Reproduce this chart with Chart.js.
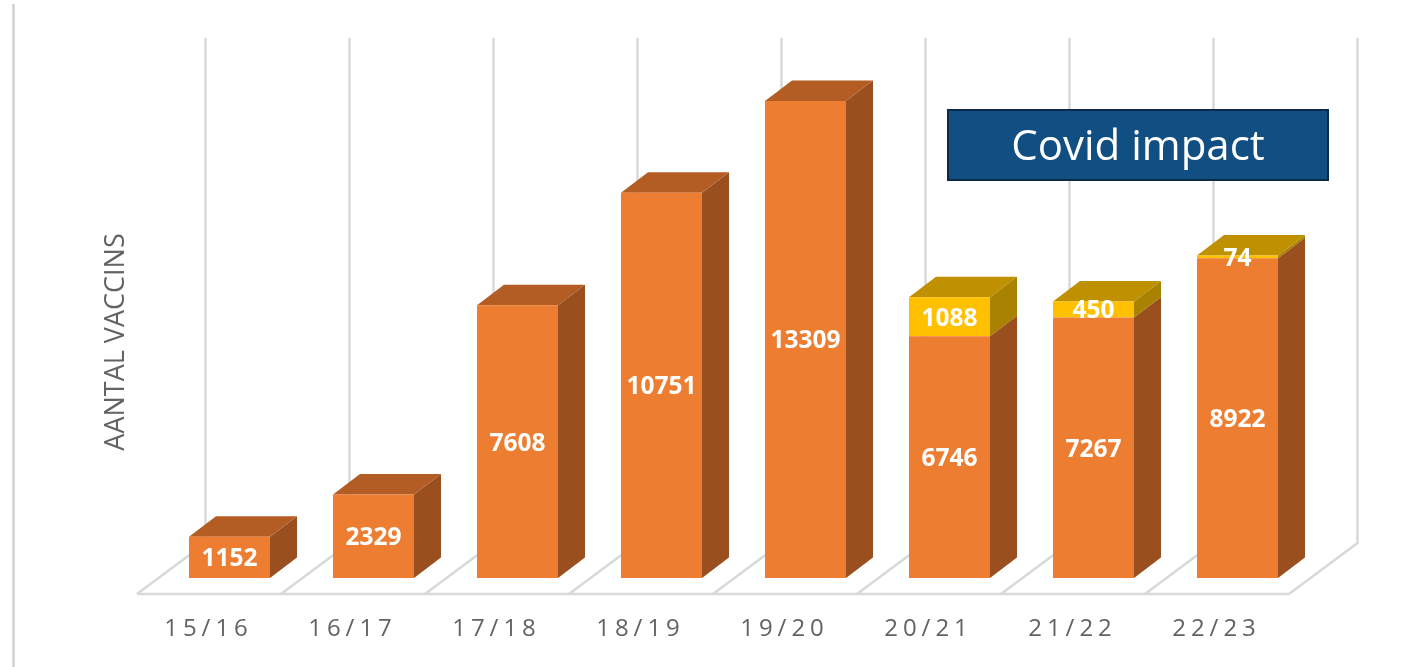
<!DOCTYPE html>
<html>
<head>
<meta charset="utf-8">
<title>Aantal vaccins</title>
<style>
  html, body { margin: 0; padding: 0; background: #fff; }
  canvas { display: block; }
</style>
<script src="https://cdn.jsdelivr.net/npm/chart.js@4/dist/chart.umd.min.js"></script>
</head>
<body>
<canvas id="myChart" width="1420" height="667"></canvas>
<script>
const seasons = ['15/16', '16/17', '17/18', '18/19', '19/20', '20/21', '21/22', '22/23'];
const regularVaccins = [1152, 2329, 7608, 10751, 13309, 6746, 7267, 8922];
const covidVaccins = [0, 0, 0, 0, 0, 1088, 450, 74];
const axisTitle = 'AANTAL VACCINS';
const noteText = 'Covid impact';

const frontColors = ['#ED7D31', '#FFC000'];
const sideColors = ['#9A4F1E', '#A88200'];
const topColors = ['#B35C24', '#BF9000'];
const gridColor = '#D9D9D9';
const depthX = 27;
const depthY = 20.5;

function face(ctx, color, pts) {
  ctx.fillStyle = color;
  ctx.beginPath();
  pts.forEach((p, i) => i ? ctx.lineTo(p[0], p[1]) : ctx.moveTo(p[0], p[1]));
  ctx.closePath();
  ctx.fill();
}

// back wall, floor and the depth of the bars
const box3d = {
  id: 'box3d',
  beforeDraw(chart) {
    const ctx = chart.ctx;
    const x = chart.scales.x;
    const base = chart.scales.y.getPixelForValue(0);
    const step = x.getPixelForValue(1) - x.getPixelForValue(0);
    const frontY = base + 16;
    const backY = base - 35;
    const frontX = x.left - 20.5;
    const backX = x.left + 48;

    ctx.save();
    ctx.fillStyle = '#fff';
    ctx.fillRect(0, 0, chart.width, chart.height);

    // page rule on the left
    ctx.strokeStyle = '#D0D0D0';
    ctx.lineWidth = 2.5;
    ctx.beginPath();
    ctx.moveTo(13.5, 4);
    ctx.lineTo(13.5, chart.height);
    ctx.stroke();

    ctx.strokeStyle = gridColor;
    ctx.lineWidth = 2.5;
    ctx.beginPath();
    seasons.concat('').forEach((s, i) => {
      const fx = frontX + step * i;
      const bx = backX + step * i;
      ctx.moveTo(bx, 38);
      ctx.lineTo(bx, backY);
      ctx.lineTo(fx, frontY);
    });
    ctx.moveTo(frontX, frontY);
    ctx.lineTo(frontX + step * seasons.length, frontY);
    ctx.stroke();
    ctx.restore();

    // tick labels are spaced out
    ctx.letterSpacing = '5px';
  },
  beforeDatasetsDraw(chart) {
    const ctx = chart.ctx;
    seasons.forEach((s, i) => {
      let topSet = -1;
      chart.data.datasets.forEach((d, n) => {
        if (!d.data[i]) return;
        const bar = chart.getDatasetMeta(n).data[i];
        const r = bar.x + bar.width / 2;
        face(ctx, sideColors[n], [
          [r, bar.y], [r + depthX, bar.y - depthY],
          [r + depthX, bar.base - depthY], [r, bar.base]
        ]);
        topSet = n;
      });
      const bar = chart.getDatasetMeta(topSet).data[i];
      const l = bar.x - bar.width / 2;
      const r = bar.x + bar.width / 2;
      face(ctx, topColors[topSet], [
        [l, bar.y], [l + depthX, bar.y - depthY],
        [r + depthX, bar.y - depthY], [r, bar.y]
      ]);
    });
  },
  afterDraw(chart) {
    const ctx = chart.ctx;
    ctx.save();
    ctx.letterSpacing = '0px';

    // value labels
    ctx.fillStyle = '#fff';
    ctx.font = 'bold 24.5px "Open Sans"';
    ctx.textAlign = 'center';
    ctx.textBaseline = 'middle';
    chart.data.datasets.forEach((d, n) => {
      chart.getDatasetMeta(n).data.forEach((bar, i) => {
        if (!d.data[i]) return;
        ctx.fillText(d.data[i], bar.x, (bar.y + bar.base) / 2 + 2);
      });
    });

    // axis title
    ctx.save();
    ctx.translate(116, 342);
    ctx.rotate(-Math.PI / 2);
    ctx.fillStyle = '#636363';
    ctx.font = '27px "Open Sans"';
    ctx.fillText(axisTitle, 0, 0);
    ctx.restore();

    // note box
    ctx.fillStyle = '#114E82';
    ctx.strokeStyle = '#0B2A4A';
    ctx.lineWidth = 2;
    ctx.fillRect(948, 110, 380, 70);
    ctx.strokeRect(948, 110, 380, 70);
    ctx.fillStyle = '#fff';
    ctx.font = '42px "Open Sans"';
    ctx.fillText(noteText, 1138, 148);
    ctx.restore();
  }
};

new Chart(document.getElementById('myChart'), {
  type: 'bar',
  data: {
    labels: seasons,
    datasets: [
      { label: 'Vaccins', data: regularVaccins, backgroundColor: frontColors[0] },
      { label: 'Covid', data: covidVaccins, backgroundColor: frontColors[1] }
    ]
  },
  options: {
    responsive: false,
    animation: false,
    barPercentage: 0.5625,
    categoryPercentage: 1,
    layout: { padding: { left: 157.5, right: 110.5, top: 40.4, bottom: 0 } },
    plugins: { legend: { display: false }, tooltip: { enabled: false }, title: { display: false } },
    scales: {
      x: {
        stacked: true,
        grid: { display: false },
        border: { display: false },
        afterFit: scale => { scale.height = 89; },
        ticks: {
          labelOffset: -21,
          padding: 29,
          maxRotation: 0,
          color: '#636363',
          font: { family: '"Open Sans"', size: 24 }
        }
      },
      y: { stacked: true, display: false, min: 0, max: 15000 }
    }
  },
  plugins: [box3d]
});
</script>
</body>
</html>
